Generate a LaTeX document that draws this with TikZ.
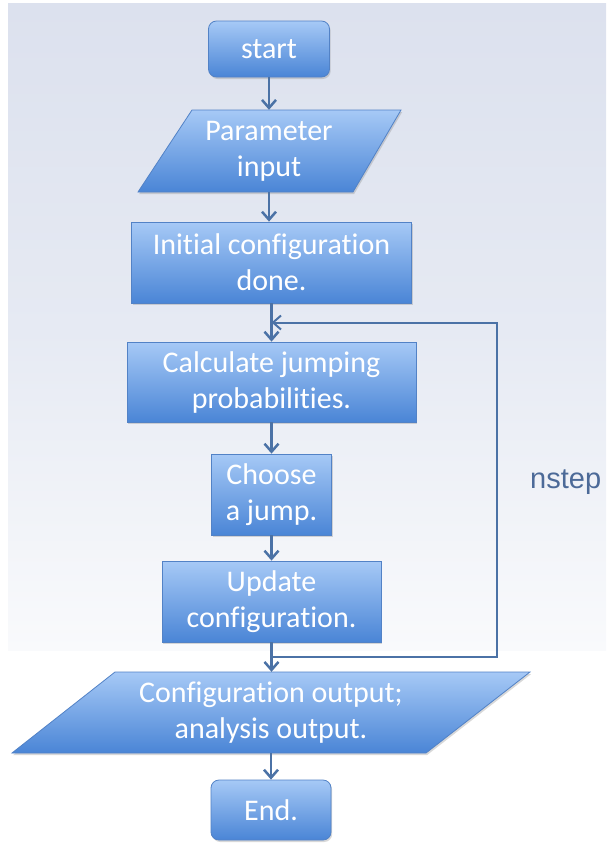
\documentclass[tikz,border=0pt]{standalone}
\usepackage{fontspec}
\setmainfont{Carlito}[Ligatures=NoCommon]
\newfontfamily\nstepfont{Liberation Sans}
\usetikzlibrary{arrows.meta,shadows,calc}
\definecolor{bgtop}{HTML}{DCE1EE}
\definecolor{bgmid}{HTML}{E6EAF3}
\definecolor{bgbot}{HTML}{F9FAFC}
\definecolor{boxtop}{HTML}{A6C9F6}
\definecolor{boxbot}{HTML}{4A85D6}
\definecolor{boxline}{HTML}{5282C6}
\definecolor{arrowc}{HTML}{4B72A6}
\definecolor{labelc}{HTML}{4C6A98}
\begin{document}
\begin{tikzpicture}[x=1pt,y=-1pt,
  boxfill/.style={draw=boxline, line width=0.8pt, top color=boxtop, bottom color=boxbot,
    drop shadow={shadow xshift=1.2pt, shadow yshift=-2pt, opacity=0.3}},
  boxstyle/.style={boxfill, text=white, font=\fontsize{30}{36}\selectfont, align=center, inner sep=0pt},
  textonly/.style={text=white, font=\fontsize{30}{36}\selectfont, align=center, inner sep=0pt},
  flow/.style={draw=arrowc, line width=2.5pt, -{Straight Barb[length=8pt,width=14pt]}},
  loopline/.style={draw=arrowc, line width=2pt, -{Straight Barb[length=8pt,width=14pt]}}
]
\useasboundingbox (0,0) rectangle (606,844);
\fill[white] (0,0) rectangle (606,844);
\fill[top color=bgtop, bottom color=bgmid] (8,3) rectangle (606,330);
\fill[top color=bgmid, bottom color=bgbot] (8,330) rectangle (606,650);

% shapes
\node[boxstyle, rounded corners=8pt, minimum width=121pt, minimum height=56pt] (start) at (269,49) {start};
\shade[boxfill] (192,110) -- (401,110) -- (353,192) -- (138,192) -- cycle;
\node[textonly, minimum width=200pt, minimum height=82pt] (param) at (269,151) {Parameter\\input};
\node[boxstyle, minimum width=280pt, minimum height=81pt] (init) at (271.5,262.5) {Initial configuration\\done.};
\node[boxstyle, minimum width=289pt, minimum height=80pt] (calc) at (271.5,382) {Calculate jumping\\probabilities.};
\node[boxstyle, minimum width=120pt, minimum height=81pt] (choose) at (271.5,494.5) {Choose\\a jump.};
\node[boxstyle, minimum width=219pt, minimum height=81pt] (update) at (271.5,601.5) {Update\\configuration.};
\shade[boxfill] (115,672) -- (530,672) -- (426,753) -- (12,753) -- cycle;
\node[textonly, minimum width=300pt, minimum height=81pt] (config) at (271,712.5) {Configuration output;\\analysis output.};
\node[boxstyle, rounded corners=8pt, minimum width=120pt, minimum height=60pt] (end) at (271,810) {End.};
\node[font=\nstepfont\fontsize{29}{33}\selectfont, text=labelc, anchor=base west, inner sep=0pt] (nstep) at (530,488) {nstep};

% connectors
\draw[flow] (start) -- (param);
\draw[flow] (param.south) -- (param.south |- init.north);
\draw[flow] (init) -- (calc);
\draw[flow] (calc) -- (choose);
\draw[flow] (choose) -- (update);
\draw[flow] (update.south) -- (update.south |- config.north);
\draw[flow] (config.south) -- (config.south |- end.north);
\coordinate (lb) at ($(update.south)!0.5!(update.south |- config.north)$);
\coordinate (lt) at ($(init.south)!0.5!(calc.north)$);
\draw[loopline] (lb) -- ++(225.5,0) |- (lt);
\end{tikzpicture}
\end{document}
